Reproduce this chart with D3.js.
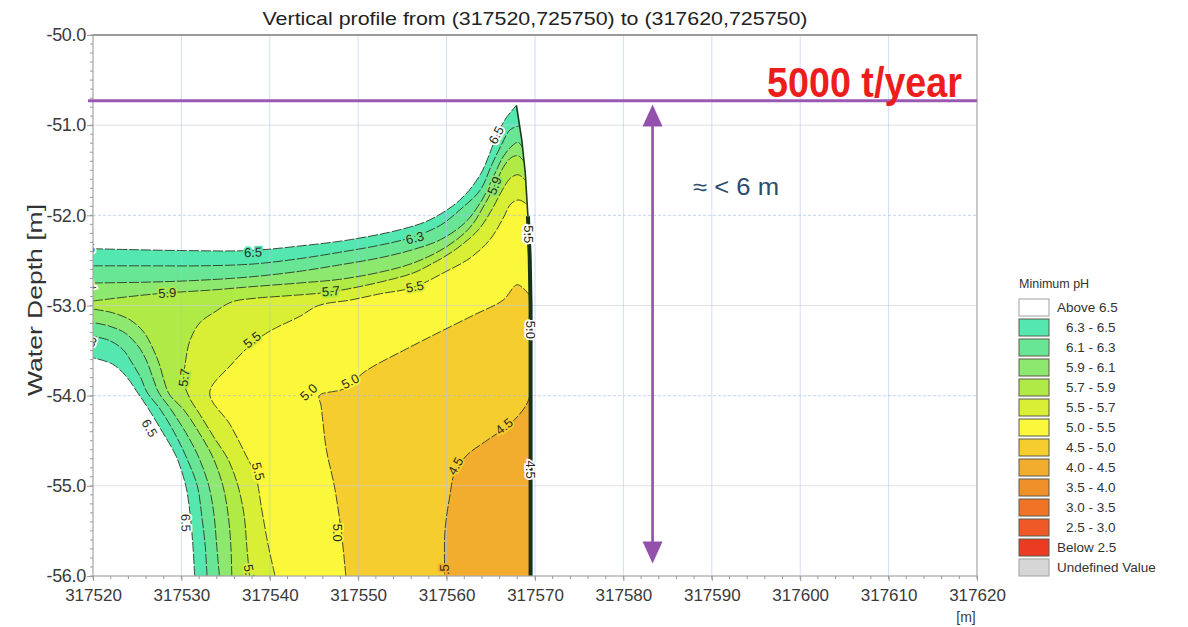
<!DOCTYPE html>
<html>
<head>
<meta charset="utf-8">
<script src="https://cdn.jsdelivr.net/npm/d3@7"></script>
<style>
body { margin: 0; background: #fff; }
text { font-family: "Liberation Sans", Arial, sans-serif; }
</style>
</head>
<body>
<script>
// axis ticks
var xTicks = [317520, 317530, 317540, 317550, 317560, 317570, 317580, 317590, 317600, 317610, 317620];
var yTicks = [-50, -51, -52, -53, -54, -55, -56];

// legend classes (Minimum pH)
var bandNames = ["Above 6.5", "6.3 - 6.5", "6.1 - 6.3", "5.9 - 6.1", "5.7 - 5.9", "5.5 - 5.7", "5.0 - 5.5",
  "4.5 - 5.0", "4.0 - 4.5", "3.5 - 4.0", "3.0 - 3.5", "2.5 - 3.0", "Below 2.5", "Undefined Value"];
var palette = ["#ffffff", "#55e7b0", "#68e696", "#8ce86f", "#b0ea46", "#d8ef36", "#fbf73a",
  "#f6cd2f", "#f2ac2e", "#f09028", "#f17426", "#ee5927", "#eb3b23", "#d6d6d6"];

// contour lines, [x (m), depth (m)]
// "a" pieces end on the right data boundary, "b" pieces run from the bottom to the left edge
var c65a = [[317520.0,-52.37],[317524.2,-52.38],[317529.8,-52.39],[317537.8,-52.39],[317543.4,-52.34],[317549.1,-52.27],
  [317554.7,-52.16],[317558.1,-52.05],[317561.5,-51.83],[317563.8,-51.55],[317565.5,-51.16],[317566.6,-50.94],[317567.9,-50.78]];
var c65b = [[317531.5,-56.0],[317531.3,-55.66],[317531.0,-55.33],[317530.5,-55.0],[317529.4,-54.67],[317527.9,-54.41],
  [317526.3,-54.15],[317525.0,-53.96],[317523.7,-53.78],[317522.2,-53.65],[317520.0,-53.58]];
var c63a = [[317520.0,-52.56],[317526.5,-52.56],[317532.1,-52.56],[317538.1,-52.54],[317543.4,-52.48],[317547.9,-52.41],
  [317552.5,-52.33],[317556.2,-52.24],[317559.3,-52.11],[317561.5,-51.94],[317563.8,-51.72],[317565.1,-51.44],
  [317566.2,-51.22],[317567.2,-51.05],[317568.2,-51.01]];
var c63b = [[317532.9,-56.0],[317532.7,-55.67],[317532.3,-55.33],[317531.8,-55.0],[317530.5,-54.67],[317529.2,-54.41],
  [317527.6,-54.15],[317526.1,-53.96],[317525.4,-53.80],[317524.5,-53.65],[317523.4,-53.49],[317521.9,-53.39],[317520.0,-53.34]];
var c61a = [[317520.0,-52.75],[317526.5,-52.74],[317532.1,-52.72],[317538.1,-52.68],[317543.4,-52.62],[317547.9,-52.55],
  [317552.5,-52.47],[317556.2,-52.38],[317559.3,-52.27],[317562.1,-52.08],[317564.0,-51.83],[317565.4,-51.55],
  [317566.4,-51.35],[317567.4,-51.23],[317568.1,-51.19],[317568.6,-51.25]];
var c61b = [[317534.3,-56.0],[317534.0,-55.67],[317533.7,-55.33],[317533.1,-55.0],[317531.9,-54.67],[317530.5,-54.41],
  [317528.8,-54.15],[317527.4,-53.96],[317526.7,-53.78],[317526.0,-53.60],[317525.1,-53.45],[317523.7,-53.31],
  [317521.9,-53.23],[317520.0,-53.19]];
var c59a = [[317520.0,-52.95],[317524.2,-52.90],[317528.4,-52.86],[317533.2,-52.83],[317538.1,-52.79],[317543.4,-52.75],
  [317547.9,-52.71],[317552.5,-52.63],[317556.2,-52.53],[317559.8,-52.36],[317562.6,-52.14],[317564.3,-51.88],
  [317565.5,-51.66],[317566.4,-51.47],[317567.3,-51.36],[317568.1,-51.34],[317568.8,-51.41]];
var c59b = [[317535.7,-56.0],[317535.6,-55.67],[317535.3,-55.33],[317534.7,-55.0],[317533.5,-54.67],[317532.0,-54.41],
  [317530.3,-54.16],[317528.6,-53.98],[317528.0,-53.82],[317527.5,-53.65],[317526.7,-53.46],[317525.7,-53.29],
  [317524.2,-53.16],[317522.2,-53.08],[317520.0,-53.04]];
var c57 = [[317537.7,-56.0],[317537.4,-55.67],[317537.1,-55.33],[317536.4,-55.0],[317535.3,-54.71],[317533.8,-54.48],
  [317532.1,-54.21],[317530.9,-54.02],[317530.3,-53.85],[317530.5,-53.60],[317531.0,-53.38],[317532.1,-53.19],
  [317533.8,-53.07],[317535.7,-52.96],[317538.3,-52.92],[317542.3,-52.89],[317546.8,-52.85],[317552.5,-52.74],
  [317556.2,-52.64],[317558.1,-52.55],[317561.0,-52.38],[317563.6,-52.16],[317565.1,-51.94],[317566.3,-51.72],
  [317567.2,-51.59],[317568.1,-51.55],[317568.9,-51.61]];
var c55 = [[317540.6,-56.0],[317539.8,-55.65],[317539.1,-55.27],[317538.4,-54.89],[317537.3,-54.66],[317535.5,-54.32],
  [317533.2,-53.97],[317535.6,-53.66],[317537.8,-53.44],[317539.9,-53.29],[317543.4,-53.12],[317545.5,-53.0],
  [317549.1,-52.94],[317552.5,-52.87],[317556.2,-52.80],[317559.8,-52.63],[317562.7,-52.47],[317564.9,-52.27],
  [317566.3,-52.05],[317567.3,-51.87],[317568.2,-51.83],[317569.1,-51.88]];
var c50 = [[317548.6,-56.0],[317548.1,-55.52],[317547.3,-55.0],[317546.4,-54.60],[317545.8,-54.11],[317545.6,-54.0],
  [317548.5,-53.92],[317550.8,-53.73],[317555.1,-53.50],[317559.3,-53.29],[317563.2,-53.10],[317566.4,-52.94],
  [317568.0,-52.77],[317569.5,-52.90]];
var c45 = [[317559.8,-56.0],[317559.8,-55.52],[317560.3,-55.15],[317560.9,-54.86],[317562.2,-54.67],[317564.8,-54.48],
  [317567.0,-54.33],[317568.7,-54.15],[317569.3,-54.04],[317569.5,-53.92]];
// right edge of the computed section
var rightEdge = [[317567.9,-50.78],[317568.5,-51.16],[317568.9,-51.53],[317569.2,-52.01],[317569.4,-52.46],[317569.5,-53.0],[317569.5,-56.0]];

// contour labels: text, x, depth, angle
var contourLabels = [
  ["6.5", 317538.1, -52.41, -2], ["6.3", 317556.4, -52.25, -14], ["6.5", 317565.6, -51.11, -62],
  ["5.9", 317565.4, -51.67, -68], ["5.9", 317528.4, -52.86, -3], ["5.7", 317546.9, -52.84, -5],
  ["5.5", 317556.4, -52.79, -10], ["5.5", 317538.0, -53.38, -38], ["5.7", 317530.3, -53.80, -82],
  ["6.5", 317526.4, -54.36, 60], ["5.0", 317544.4, -53.96, -42], ["5.0", 317549.1, -53.84, -28],
  ["5.5", 317538.7, -54.84, 75], ["6.5", 317530.5, -55.41, 88], ["5.7", 317537.7, -55.97, 80],
  ["5.0", 317547.7, -55.52, 90], ["4.5", 317561.0, -54.78, -60], ["4.5", 317566.5, -54.34, -40],
  ["4.5", 317559.8, -55.97, -90], ["5.5", 317569.3, -52.21, 90], ["5.0", 317569.5, -53.27, 90],
  ["4.5", 317569.5, -54.82, 90], ["6.5", 317519.2, -52.37, 0], ["6.1", 317519.3, -52.78, -15],
  ["6.3", 317519.4, -53.38, 25]
];

var loadLine = -50.73;   // 5000 t/year level
var arrowX = 317583.3;
var arrowEnds = [-50.77, -55.86];

var W = 1188, H = 627;
var svg = d3.select("body").append("svg").attr("width", W).attr("height", H);

var x = d3.scaleLinear().domain([317520, 317620]).range([93, 977]);
var y = d3.scaleLinear().domain([-50, -56]).range([35, 576]);

svg.append("clipPath").attr("id", "plot")
  .append("rect").attr("x", 93).attr("y", 35).attr("width", 884).attr("height", 541);

var plot = svg.append("g").attr("clip-path", "url(#plot)");

var levels = [
  {v: 6.5, a: c65a, b: c65b}, {v: 6.3, a: c63a, b: c63b}, {v: 6.1, a: c61a, b: c61b}, {v: 5.9, a: c59a, b: c59b},
  {v: 5.7, a: c57}, {v: 5.5, a: c55}, {v: 5.0, a: c50}, {v: 4.5, a: c45}
];

var curve = d3.line().x(function(d) { return x(d[0]); }).y(function(d) { return y(d[1]); })
  .curve(d3.curveCatmullRom.alpha(0.5));
var straight = d3.line().x(function(d) { return x(d[0]); }).y(function(d) { return y(d[1]); });

function edgeBelow(p) {
  var end = p.a[p.a.length - 1][1];
  return rightEdge.filter(function(e) { return e[1] < end - 0.001; });
}
function ringPath(p) {
  var s = curve(p.a) + straight(edgeBelow(p)).replace("M", "L");
  if (p.b) s += curve(p.b).replace("M", "L");
  return s + "Z";
}
function ringPoly(p) {
  var pts = p.a.concat(edgeBelow(p), p.b || []);
  return pts.map(function(d) { return [x(d[0]), y(d[1])]; });
}

// filled bands, painted from the outermost level inwards
plot.selectAll("path.band").data(levels).enter().append("path")
  .attr("class", "band")
  .attr("d", ringPath)
  .attr("fill", function(d, i) { return palette[i + 1]; });

// grid
plot.selectAll("line.vg").data(xTicks.slice(1, -1)).enter().append("line")
  .attr("x1", function(d) { return x(d); }).attr("x2", function(d) { return x(d); })
  .attr("y1", 35).attr("y2", 576)
  .attr("stroke", "#a9c3ee").attr("stroke-opacity", 0.55).attr("stroke-width", 1);
plot.selectAll("line.hg").data(yTicks.slice(1, -1)).enter().append("line")
  .attr("x1", 93).attr("x2", 977)
  .attr("y1", function(d) { return y(d); }).attr("y2", function(d) { return y(d); })
  .attr("stroke", function(d) { return d % 2 === 0 ? "#9fb9ee" : "#c9ccd4"; })
  .attr("stroke-opacity", 0.6)
  .attr("stroke-dasharray", function(d) { return d % 2 === 0 ? "3,2" : null; });

// contour lines
var pieces = [];
levels.forEach(function(p) { pieces.push(p.a); if (p.b) pieces.push(p.b); });
plot.selectAll("path.iso").data(pieces).enter().append("path")
  .attr("d", curve)
  .attr("fill", "none").attr("stroke", "#2b3a28").attr("stroke-width", 0.9)
  .attr("stroke-dasharray", "10,2");

// right edge where the isolines pile up
plot.append("path").attr("d", straight(rightEdge.slice(0, 4)))
  .attr("fill", "none").attr("stroke", "#1b3a1c").attr("stroke-width", 1.6);
plot.append("path").attr("d", straight(rightEdge.slice(3)))
  .attr("fill", "none").attr("stroke", "#163218").attr("stroke-width", 4);

// labels on the isolines
var polys = levels.map(ringPoly);
function haloAt(px, py) {
  for (var i = levels.length - 1; i >= 0; i--) {
    if (d3.polygonContains(polys[i], [px, py])) return palette[i + 1];
  }
  return "#ffffff";
}
plot.selectAll("text.cl").data(contourLabels).enter().append("text")
  .attr("transform", function(d) { return "translate(" + x(d[1]) + "," + y(d[2]) + ") rotate(" + d[3] + ")"; })
  .attr("text-anchor", "middle").attr("dy", "0.35em")
  .attr("font-size", 13).attr("fill", "#2a2a22")
  .attr("stroke", function(d) { return haloAt(x(d[1]), y(d[2])); })
  .attr("stroke-width", 3.5).attr("paint-order", "stroke")
  .text(function(d) { return d[0]; });

// frame
svg.append("rect").attr("x", 93).attr("y", 35).attr("width", 884).attr("height", 541)
  .attr("fill", "none").attr("stroke", "#a6a6a6").attr("stroke-width", 1.2);
svg.append("line").attr("x1", 93).attr("x2", 977).attr("y1", 35).attr("y2", 35)
  .attr("stroke", "#9a9a9a").attr("stroke-width", 2);

// minor ticks
svg.selectAll("line.my").data(d3.range(0, 61)).enter().append("line")
  .attr("x1", 90).attr("x2", 93)
  .attr("y1", function(i) { return y(-50 - i / 10); }).attr("y2", function(i) { return y(-50 - i / 10); })
  .attr("stroke", "#9a9a9a");
svg.selectAll("line.mx").data(d3.range(0, 51)).enter().append("line")
  .attr("x1", function(i) { return x(317520 + i * 2); }).attr("x2", function(i) { return x(317520 + i * 2); })
  .attr("y1", 576).attr("y2", 579)
  .attr("stroke", "#9a9a9a");

// axes
var yAxis = svg.append("g").attr("transform", "translate(93,0)")
  .call(d3.axisLeft(y).tickValues(yTicks).tickSize(6).tickPadding(1)
    .tickFormat(function(d) { return d.toFixed(1); }));
var xAxis = svg.append("g").attr("transform", "translate(0,576)")
  .call(d3.axisBottom(x).tickValues(xTicks).tickSize(5).tickPadding(8)
    .tickFormat(function(d) { return d; }));
[yAxis, xAxis].forEach(function(g) {
  g.select(".domain").remove();
  g.selectAll("line").attr("stroke", "#9a9a9a");
  g.selectAll("text").attr("font-family", "Liberation Sans, Arial, sans-serif")
    .attr("font-size", 17).attr("fill", "#3a3a3a");
});
yAxis.selectAll("text").attr("font-size", 18).attr("letter-spacing", -0.3);

svg.append("text").attr("x", 966).attr("y", 622).attr("text-anchor", "middle")
  .attr("font-size", 14).attr("fill", "#3a3a3a").text("[m]");

svg.append("text").attr("transform", "translate(42,300) rotate(-90)")
  .attr("text-anchor", "middle").attr("font-size", 20).attr("fill", "#333")
  .attr("textLength", 192).attr("lengthAdjust", "spacingAndGlyphs")
  .text("Water Depth [m]");

svg.append("text").attr("x", 535).attr("y", 25).attr("text-anchor", "middle")
  .attr("font-size", 19).attr("fill", "#222")
  .attr("textLength", 545).attr("lengthAdjust", "spacingAndGlyphs")
  .text("Vertical profile from (317520,725750) to (317620,725750)");

// load annotation
svg.append("line").attr("x1", 88).attr("x2", 977).attr("y1", y(loadLine)).attr("y2", y(loadLine))
  .attr("stroke", "#9b58b2").attr("stroke-width", 3);
var ax = x(arrowX), at = y(arrowEnds[0]), ab = y(arrowEnds[1]);
svg.append("line").attr("x1", ax).attr("x2", ax).attr("y1", at + 18).attr("y2", ab - 18)
  .attr("stroke", "#9450ad").attr("stroke-width", 2.6);
svg.append("path").attr("d", "M" + ax + "," + at + "L" + (ax - 10) + "," + (at + 22) + "L" + (ax + 10) + "," + (at + 22) + "Z")
  .attr("fill", "#9450ad");
svg.append("path").attr("d", "M" + ax + "," + ab + "L" + (ax - 10) + "," + (ab - 22) + "L" + (ax + 10) + "," + (ab - 22) + "Z")
  .attr("fill", "#9450ad");
svg.append("text").attr("x", 693).attr("y", 195).attr("font-size", 23).attr("fill", "#2d4c6e")
  .attr("textLength", 86).attr("lengthAdjust", "spacingAndGlyphs")
  .text("≈ < 6 m");
svg.append("text").attr("x", 962).attr("y", 97).attr("text-anchor", "end")
  .attr("font-size", 42).attr("font-weight", "bold").attr("fill", "#ee1d1d")
  .attr("textLength", 195).attr("lengthAdjust", "spacingAndGlyphs")
  .text("5000 t/year");

// legend
var legend = svg.append("g");
legend.append("text").attr("x", 1019).attr("y", 288).attr("font-size", 12.5).attr("fill", "#333")
  .text("Minimum pH");
var rows = legend.selectAll("g.row").data(bandNames).enter().append("g")
  .attr("transform", function(d, i) { return "translate(1019," + (299 + i * 20) + ")"; });
rows.append("rect").attr("width", 30).attr("height", 17)
  .attr("fill", function(d, i) { return palette[i]; })
  .attr("stroke", function(d, i) { return i === 0 || i === 13 ? "#a0a0a0" : "#5a5a4a"; })
  .attr("stroke-width", 1);
rows.append("text")
  .attr("x", function(d) { return /^\d/.test(d) ? 47 : 38; })
  .attr("y", 13).attr("font-size", 13.5).attr("fill", "#333")
  .text(function(d) { return d; });
</script>
</body>
</html>
